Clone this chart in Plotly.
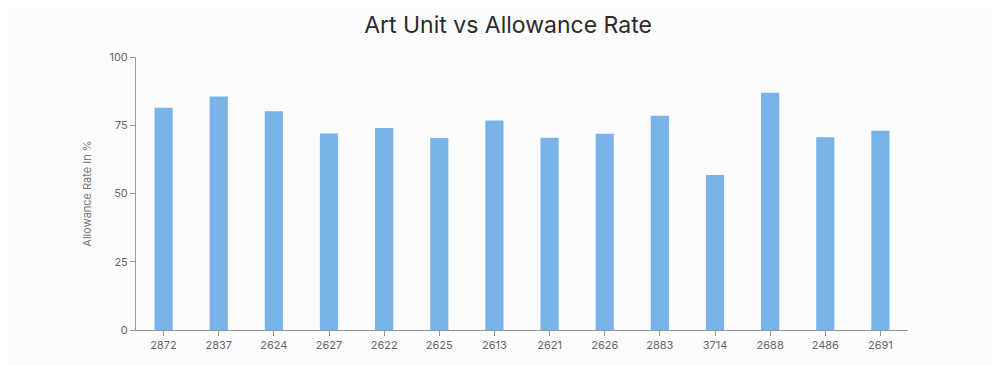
import plotly.graph_objects as go

art_units = ["2872", "2837", "2624", "2627", "2622", "2625", "2613",
             "2621", "2626", "2883", "3714", "2688", "2486", "2691"]
allowance_rate = [81.4, 85.5, 80.1, 72.0, 74.0, 70.3, 76.7,
                  70.4, 71.9, 78.5, 56.8, 86.9, 70.6, 73.0]
y_ticks = [0, 25, 50, 75, 100]

fig = go.Figure(go.Bar(
    x=art_units, y=allowance_rate,
    marker=dict(color="#79b3e9", line=dict(width=0)),
    width=0.33,
))

fig.update_layout(
    width=1000, height=365,
    paper_bgcolor="#fcfcfd", plot_bgcolor="#fcfcfd",
    margin=dict(l=128, r=100, t=49, b=43),
    title=dict(text="Art Unit vs Allowance Rate", x=0.5, xanchor="center",
               y=0.953, yanchor="middle",
               font=dict(family="Inter, Lato, sans-serif", size=23, color="#2b2b2b")),
    font=dict(family="Inter, Lato, sans-serif", size=11, color="#666666"),
    showlegend=False,
)
fig.update_xaxes(
    type="category", range=[-0.5, 13.5],
    showline=True, linecolor="#999999", linewidth=1,
    ticks="outside", ticklen=5, tickcolor="#999999",
    showgrid=False, zeroline=False,
    tickfont=dict(size=11, color="#666666"),
)
fig.update_yaxes(
    range=[0, 100], tickvals=y_ticks,
    showline=True, linecolor="#999999", linewidth=1,
    ticks="outside", ticklen=5, tickcolor="#999999",
    showgrid=False, zeroline=False,
    title=dict(text="Allowance Rate In %", standoff=15,
               font=dict(size=11, color="#777777")),
    tickfont=dict(size=11, color="#666666"),
)

fig.write_html("out.html")
